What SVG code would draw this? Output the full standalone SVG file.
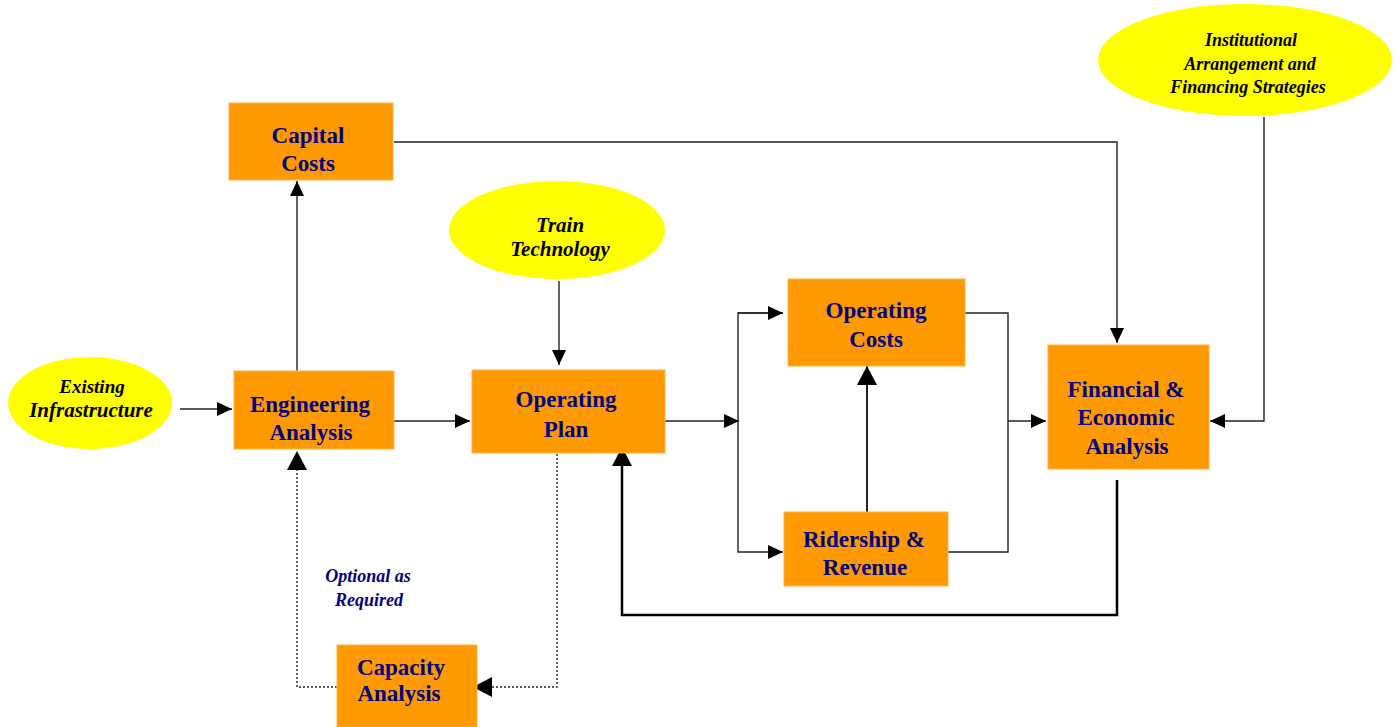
<svg xmlns="http://www.w3.org/2000/svg" width="1400" height="727" viewBox="0 0 1400 727">
<defs>
<marker id="ah" markerUnits="userSpaceOnUse" markerWidth="16" markerHeight="14" refX="15" refY="7" orient="auto">
<path d="M0,0 L15,7 L0,14 Z" fill="#000"/>
</marker>
<marker id="ahL" markerUnits="userSpaceOnUse" markerWidth="20" markerHeight="20" refX="19" refY="10" orient="auto">
<path d="M0,0 L19,10 L0,20 Z" fill="#000"/>
</marker>
</defs>
<style>
.box{fill:#FF9900;stroke:#FFB347;stroke-width:1}
.ell{fill:#FFFF00}
.bt{font-family:"Liberation Serif",serif;font-weight:bold;font-size:23px;fill:#000080;text-anchor:middle}
.et{font-family:"Liberation Serif",serif;font-weight:bold;font-style:italic;fill:#000;text-anchor:middle}
.ln{fill:none;stroke:#222;stroke-width:1.4}
.thk{fill:none;stroke:#000;stroke-width:2.5}
.dot{fill:none;stroke:#222;stroke-width:1.4;stroke-dasharray:2,2}
</style>
<g id="connectors">
<path class="ln" d="M180,409 L232,409" marker-end="url(#ah)"/>
<path class="ln" d="M297,371 L297,181" marker-end="url(#ah)"/>
<path class="ln" d="M394,421 L470,421" marker-end="url(#ah)"/>
<path class="ln" d="M394,142 L1117,142 L1117,343" marker-end="url(#ah)"/>
<path class="ln" d="M1264,117 L1264,421 L1210,421" marker-end="url(#ah)"/>
<path class="ln" d="M559,281 L559,365" marker-end="url(#ah)"/>
<path class="ln" d="M665,421 L739,421" marker-end="url(#ah)"/>
<path class="ln" d="M783,313 L738,313 L738,552 L783,552" marker-end="url(#ah)"/>
<path class="ln" d="M738,313 L783,313" marker-end="url(#ah)"/>
<path class="ln" d="M867,512 L867,366" marker-end="url(#ahL)" style="stroke-width:2"/>
<path class="ln" d="M960,313 L1008,313 L1008,552 L948,552"/>
<path class="ln" d="M1008,421 L1046,421" marker-end="url(#ah)"/>
<path class="thk" d="M1117,480 L1117,615 L622,615 L622,447" marker-end="url(#ahL)"/>
<path class="dot" d="M557,454 L557,687 L473,687" marker-end="url(#ahL)"/>
<path class="dot" d="M337,687 L297,687 L297,451" marker-end="url(#ahL)"/>
</g>
<g id="existing-infrastructure">
<ellipse class="ell" cx="90" cy="403" rx="82" ry="46"/>
<text class="et" x="92" y="393" font-size="19">Existing</text>
<text class="et" x="91" y="417" font-size="21">Infrastructure</text>
</g>
<g id="engineering-analysis">
<rect class="box" x="234" y="371" width="160" height="78"/>
<text class="bt" x="310" y="412">Engineering</text>
<text class="bt" x="311" y="440">Analysis</text>
</g>
<g id="capital-costs">
<rect class="box" x="229" y="103" width="164" height="77"/>
<text class="bt" x="308" y="143">Capital</text>
<text class="bt" x="308" y="171">Costs</text>
</g>
<g id="train-technology">
<ellipse class="ell" cx="557" cy="230" rx="108" ry="49"/>
<text class="et" x="560" y="232" font-size="21">Train</text>
<text class="et" x="560" y="256" font-size="21">Technology</text>
</g>
<g id="operating-plan">
<rect class="box" x="472" y="370" width="193" height="83"/>
<text class="bt" x="566" y="407">Operating</text>
<text class="bt" x="566" y="437">Plan</text>
</g>
<g id="operating-costs">
<rect class="box" x="788" y="279" width="177" height="87"/>
<text class="bt" x="876" y="318">Operating</text>
<text class="bt" x="876" y="347">Costs</text>
</g>
<g id="ridership-revenue">
<rect class="box" x="784" y="512" width="164" height="74"/>
<text class="bt" x="864" y="547">Ridership &amp;</text>
<text class="bt" x="865" y="575">Revenue</text>
</g>
<g id="financial-economic-analysis">
<rect class="box" x="1048" y="345" width="161" height="124"/>
<text class="bt" x="1126" y="397">Financial &amp;</text>
<text class="bt" x="1126" y="425">Economic</text>
<text class="bt" x="1127" y="454">Analysis</text>
</g>
<g id="institutional-arrangement">
<ellipse class="ell" cx="1245" cy="60" rx="147" ry="56"/>
<text class="et" x="1251" y="46" font-size="18">Institutional</text>
<text class="et" x="1250" y="70" font-size="18">Arrangement and</text>
<text class="et" x="1248" y="93" font-size="18">Financing Strategies</text>
</g>
<g id="capacity-analysis">
<rect class="box" x="337" y="645" width="140" height="82"/>
<text class="bt" x="401" y="675" font-size="22">Capacity</text>
<text class="bt" x="399" y="701" font-size="22">Analysis</text>
</g>
<g id="optional-label">
<text class="et" x="368" y="582" font-size="18" style="fill:#000080">Optional as</text>
<text class="et" x="369" y="606" font-size="18" style="fill:#000080">Required</text>
</g>
</svg>
